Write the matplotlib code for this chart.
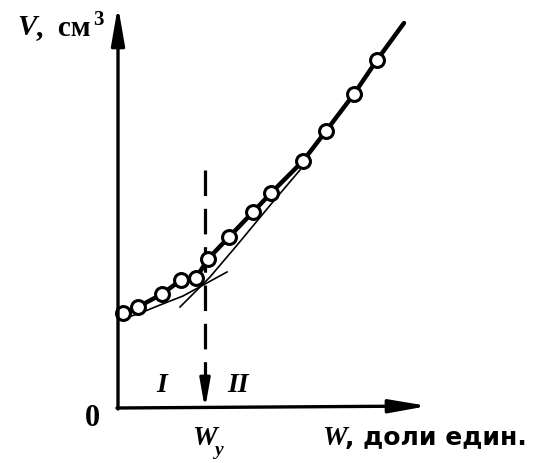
import matplotlib
matplotlib.use("Agg")
import matplotlib.pyplot as plt

# экспериментальные точки (W, V) в условных единицах
w_points = [0.05, 0.20, 0.44, 0.63, 0.78, 0.90, 1.11, 1.35, 1.53, 1.85, 2.08, 2.36, 2.59]
v_points = [0.95, 1.01, 1.14, 1.28, 1.30, 1.49, 1.71, 1.96, 2.15, 2.47, 2.77, 3.14, 3.48]

# толстая кривая
w_curve = [0.0] + w_points + [2.86]
v_curve = [0.92] + v_points + [3.85]

# тонкие кривые для областей I и II
w_thin1 = [0.0, 0.20, 0.42, 0.65, 0.87, 1.09]
v_thin1 = [0.88, 0.94, 1.03, 1.12, 1.24, 1.36]
w_thin2 = [0.62, 0.92, 1.20, 1.54, 1.82]
v_thin2 = [1.01, 1.31, 1.64, 2.05, 2.38]

w_y = 0.87

fig = plt.figure(figsize=(5.42, 4.63), dpi=100)
ax = fig.add_axes([0, 0, 1, 1])
ax.set_xlim(-1.18, 4.24)
ax.set_ylim(-0.55, 4.08)
ax.axis('off')

arrow = dict(arrowstyle='-|>,head_length=2.3,head_width=0.4', lw=2.4, color='black',
             shrinkA=0, shrinkB=0)
# оси
ax.annotate('', xy=(0, 4.02), xytext=(0, -0.01), arrowprops=arrow)
ax.annotate('', xy=(3.10, 0.02), xytext=(-0.01, 0.0), arrowprops=arrow)

# штриховая линия W_y
ax.plot([w_y, w_y], [2.38, 0.30], color='black', lw=2.3, dashes=(8, 4))
ax.annotate('', xy=(w_y, -0.01), xytext=(w_y, 0.32),
            arrowprops=dict(arrowstyle='-|>,head_length=1.7,head_width=0.3', lw=2.3,
                            color='black', shrinkA=0, shrinkB=0))

ax.plot(w_thin1, v_thin1, color='black', lw=1.2)
ax.plot(w_thin2, v_thin2, color='black', lw=1.2)
ax.plot(w_curve, v_curve, color='black', lw=3.2, solid_capstyle='round')
ax.plot(w_points, v_points, 'o', ms=10, mfc='white', mec='black', mew=2.2)

serif = dict(family='Liberation Serif', fontweight='bold', color='black')
ax.text(-1.01, 3.73, 'V', fontsize=21, style='italic', va='baseline', ha='left', **serif)
ax.text(-0.82, 3.73, ',  см', fontsize=21, va='baseline', ha='left', **serif)
ax.text(-0.25, 3.83, '3', fontsize=15, va='baseline', ha='left', **serif)
ax.text(-0.26, -0.11, '0', fontsize=22, va='center', ha='center', **serif)
ax.text(0.44, 0.22, 'I', fontsize=20, style='italic', va='center', ha='center', **serif)
ax.text(1.20, 0.22, 'II', fontsize=20, style='italic', va='center', ha='center', **serif)
ax.text(0.74, -0.37, 'W', fontsize=20, style='italic', va='baseline', ha='left', **serif)
ax.text(0.97, -0.47, 'у', fontsize=14, style='italic', va='baseline', ha='left', **serif)
ax.text(2.04, -0.37, 'W', fontsize=20, style='italic', va='baseline', ha='left', **serif)
ax.text(2.27, -0.37, ', доли един.', fontsize=18, fontweight='bold', family='DejaVu Sans',
        va='baseline', ha='left', color='black')

fig.savefig('out.png', dpi=100, facecolor='white')
